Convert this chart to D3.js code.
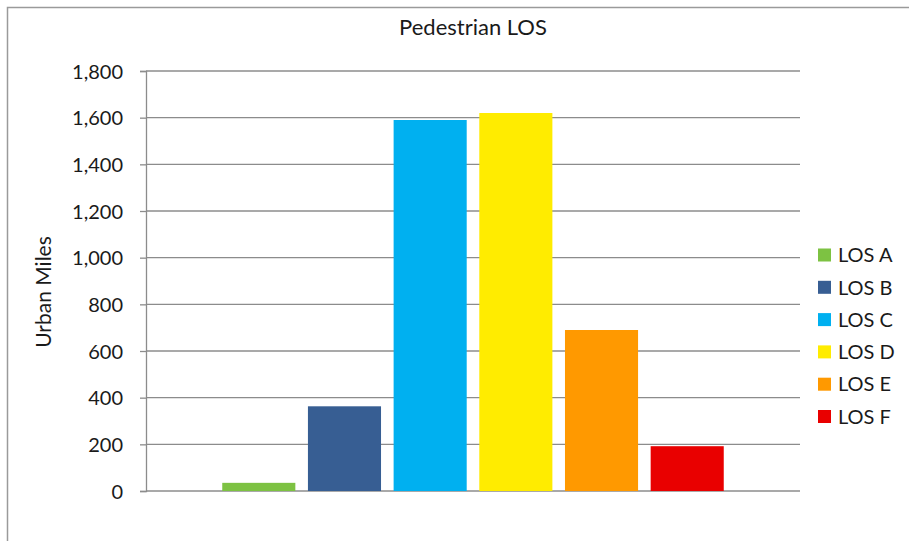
<!DOCTYPE html>
<html>
<head>
<meta charset="utf-8">
<script src="https://cdn.jsdelivr.net/npm/d3@7/dist/d3.min.js"></script>
<style>
  html, body { margin: 0; padding: 0; background: #fff; }
  svg { display: block; }
  text { font-family: Lato, "Open Sans", sans-serif; fill: #1a1a1a; }
</style>
</head>
<body>
<svg id="chart" width="909" height="541"></svg>
<script>
const categories = ["LOS A", "LOS B", "LOS C", "LOS D", "LOS E", "LOS F"];
const values = [35, 363, 1590, 1620, 690, 192];
const colors = ["#7DC242", "#375E93", "#00B0F0", "#FFEC00", "#FF9900", "#E90000"];
const yTicks = [0, 200, 400, 600, 800, 1000, 1200, 1400, 1600, 1800];
const title = "Pedestrian LOS";
const yLabel = "Urban Miles";

const svg = d3.select("#chart");
const plot = { left: 146, right: 800, top: 71, bottom: 491 };

// outer frame
svg.append("rect").attr("x", 7.5).attr("y", 7.5).attr("width", 920).attr("height", 560)
  .attr("fill", "none").attr("stroke", "#9a9a9a").attr("stroke-width", 1.5);

const x = d3.scaleBand().domain(categories).range([plot.left, plot.right])
  .paddingInner(0.147).paddingOuter(0.89);
const y = d3.scaleLinear().domain([0, 1800]).range([plot.bottom, plot.top]);

// gridlines
svg.append("g").selectAll("line").data(yTicks).join("line")
  .attr("x1", plot.left).attr("x2", plot.right)
  .attr("y1", d => y(d)).attr("y2", d => y(d))
  .attr("stroke", "#8c8c8c").attr("stroke-width", 1.3);

// bars
svg.append("g").selectAll("rect").data(categories).join("rect")
  .attr("x", d => x(d)).attr("width", x.bandwidth())
  .attr("y", (d, i) => y(values[i])).attr("height", (d, i) => y(0) - y(values[i]))
  .attr("fill", (d, i) => colors[i]);

// y axis
const yAxis = d3.axisLeft(y).tickValues(yTicks).tickFormat(d3.format(",")).tickSize(6).tickPadding(17);
const ga = svg.append("g").attr("transform", `translate(${plot.left},0)`).call(yAxis);
ga.select(".domain").attr("stroke", "#8c8c8c").attr("stroke-width", 1.3);
ga.selectAll(".tick line").attr("stroke", "#8c8c8c").attr("stroke-width", 1.3);
ga.selectAll(".tick text").style("font-family", "Lato, sans-serif").style("font-size", "20px")
  .attr("fill", "#1a1a1a").attr("dy", "0.35em");

// title
svg.append("text").attr("x", 473).attr("y", 35).attr("text-anchor", "middle")
  .style("font-size", "22px").text(title);

// y label
svg.append("text").attr("transform", "translate(51,292) rotate(-90)").attr("text-anchor", "middle")
  .style("font-size", "21px").text(yLabel);

// legend
const lg = svg.append("g").selectAll("g").data(categories).join("g")
  .attr("transform", (d, i) => `translate(818,${255 + i * 32.3})`);
lg.append("rect").attr("x", 0).attr("y", -6.5).attr("width", 13).attr("height", 13)
  .attr("fill", (d, i) => colors[i]);
lg.append("text").attr("x", 20).attr("y", 0).attr("dy", "0.36em")
  .style("font-size", "20px").text(d => d);
</script>
</body>
</html>
